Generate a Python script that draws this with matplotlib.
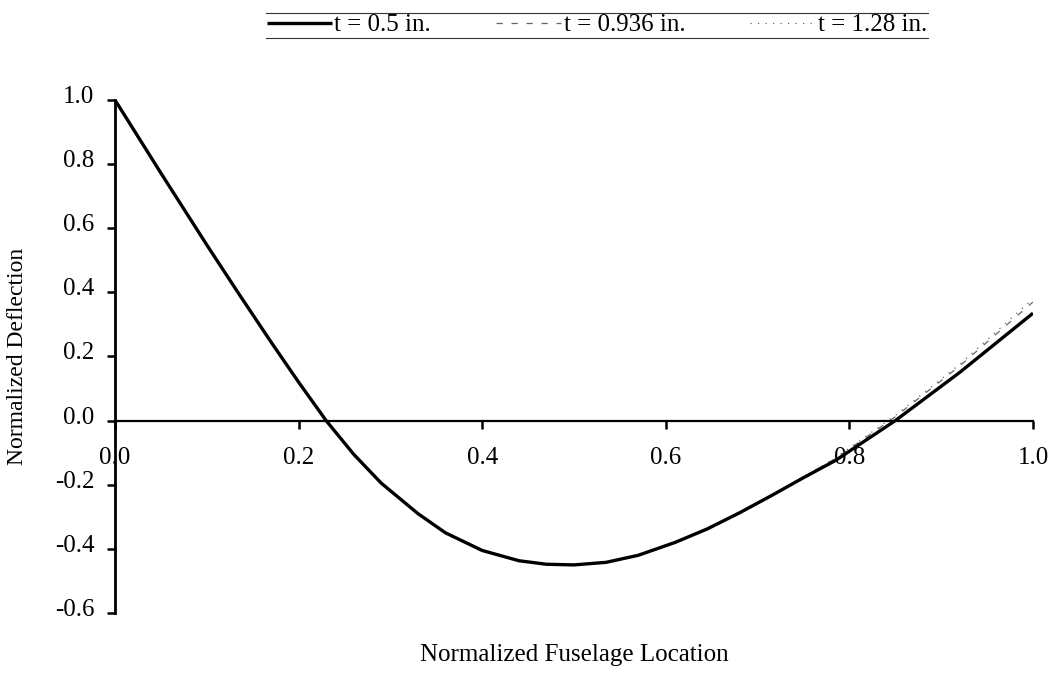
import matplotlib
matplotlib.use('Agg')
import matplotlib.pyplot as plt
from matplotlib.lines import Line2D
from matplotlib.transforms import ScaledTranslation

plt.rcParams['font.family'] = ['Liberation Serif', 'DejaVu Serif']
plt.rcParams['axes.unicode_minus'] = False

# Normalized deflection along the fuselage for three skin thicknesses
location = [0.0, 0.05, 0.10, 0.135, 0.17, 0.20, 0.23, 0.26, 0.29, 0.33, 0.36,
            0.40, 0.44, 0.47, 0.50, 0.535, 0.57, 0.61, 0.645, 0.68, 0.715,
            0.75, 0.785, 0.85, 0.92, 1.0]
defl_t050 = [1.0, 0.772, 0.548, 0.395, 0.245, 0.120, 0.0, -0.105, -0.195, -0.29, -0.35,
             -0.405, -0.437, -0.448, -0.45, -0.442, -0.42, -0.38, -0.338, -0.288, -0.234,
             -0.178, -0.124, 0.0, 0.15, 0.335]
defl_t0936 = [1.0, 0.772, 0.548, 0.395, 0.245, 0.120, 0.0, -0.105, -0.195, -0.29, -0.35,
              -0.405, -0.437, -0.448, -0.45, -0.442, -0.42, -0.38, -0.338, -0.288, -0.234,
              -0.176, -0.118, 0.012, 0.17, 0.37]
defl_t128 = [1.0, 0.772, 0.548, 0.395, 0.245, 0.120, 0.0, -0.105, -0.195, -0.29, -0.35,
             -0.405, -0.437, -0.448, -0.45, -0.442, -0.42, -0.38, -0.338, -0.288, -0.234,
             -0.175, -0.116, 0.016, 0.175, 0.38]
labels = ['t = 0.5 in.', 't = 0.936 in.', 't = 1.28 in.']

fig = plt.figure(figsize=(10.57, 6.76), dpi=100)
ax = fig.add_axes([0.1088, 0.0932, 0.8685, 0.7589])

l3, = ax.plot(location, defl_t128, color='#666666', lw=0.9, linestyle=(0, (1, 5)))
l2, = ax.plot(location, defl_t0936, color='#666666', lw=0.9, linestyle=(0, (5, 7)))
l1, = ax.plot(location, defl_t050, color='black', lw=2.4, solid_capstyle='butt',
              solid_joinstyle='round')

ax.set_xlim(0, 1.0)
ax.set_ylim(-0.6, 1.0)
ax.set_xticks([0.0, 0.2, 0.4, 0.6, 0.8, 1.0])
ax.set_yticks([-0.6, -0.4, -0.2, 0.0, 0.2, 0.4, 0.6, 0.8, 1.0])
ax.set_xticklabels(['0.0', '0.2', '0.4', '0.6', '0.8', '1.0'])
ax.set_yticklabels(['-0.6', '-0.4', '-0.2', '0.0', '0.2', '0.4', '0.6', '0.8', '1.0'])

for side in ['top', 'right']:
    ax.spines[side].set_visible(False)
ax.spines['bottom'].set_position(('data', 0))
ax.spines['bottom'].set_linewidth(1.6)
ax.spines['left'].set_linewidth(2.0)
ax.tick_params(axis='x', direction='out', length=6, width=1.8, labelsize=18, pad=13)
ax.tick_params(axis='y', direction='out', length=6, width=1.8, labelsize=18, pad=9)

# y labels sit a little above their ticks
shift = ScaledTranslation(0, 4 / 72, fig.dpi_scale_trans)
for lab in ax.get_yticklabels():
    lab.set_transform(lab.get_transform() + shift)

ax.set_ylabel('Normalized Deflection', fontsize=17)
ax.yaxis.set_label_coords(-0.095, 0.5)
ax.set_xlabel('Normalized Fuselage Location', fontsize=18, va='top')
ax.xaxis.set_label_coords(0.5, -0.06)

leg = fig.legend([l1, l2, l3], labels, loc='center', ncol=3,
                 bbox_to_anchor=(597 / 1057, 1 - 25 / 676), fontsize=18,
                 frameon=False, handlelength=2.6, handletextpad=0.1,
                 columnspacing=2.6, borderpad=0.05)

# rules above and below the legend
fig.canvas.draw()
bb = leg.get_window_extent().transformed(fig.transFigure.inverted())
for yy in (bb.y0, bb.y1):
    fig.add_artist(Line2D([bb.x0, bb.x1], [yy, yy], transform=fig.transFigure,
                          color='#333333', lw=0.8))

fig.savefig('out.png', dpi=100)
